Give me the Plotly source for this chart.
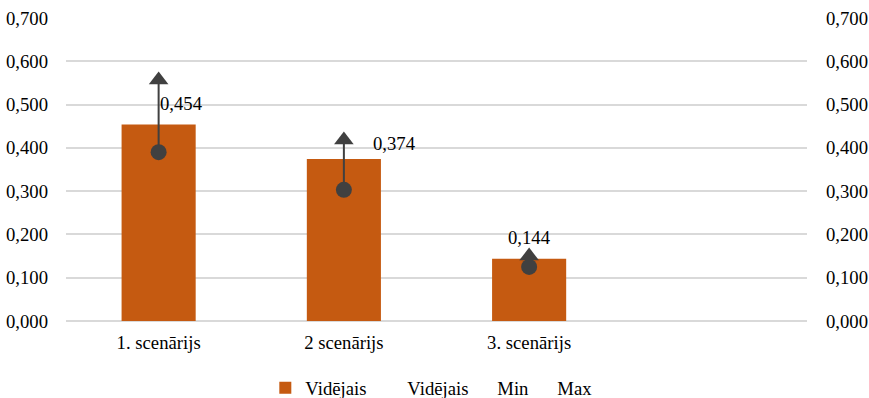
import plotly.graph_objects as go

# Scenario data
categories = ["1. scenārijs", "2 scenārijs", "3. scenārijs"]
n_slots = 4  # the category axis has one trailing empty slot
avg_values = [0.454, 0.374, 0.144]
min_values = [0.390, 0.303, 0.125]
max_values = [0.557, 0.418, 0.150]
y_ticks = [0.0, 0.1, 0.2, 0.3, 0.4, 0.5, 0.6, 0.7]

# Label offsets (px) for the average value labels
label_dx = [23, 51, 0]
label_dy = [21, 16, 21]

FONT = "Liberation Serif"
FS = 18.7
BAR_COLOR = "#C55A11"
MARK_COLOR = "#404040"
GRID = "#D9D9D9"

xs = list(range(len(categories)))

fig = go.Figure()

fig.add_trace(go.Bar(
    x=xs, y=avg_values, name="Vidējais", width=0.4,
    marker=dict(color=BAR_COLOR, line=dict(width=0)),
    showlegend=True, legendwidth=57,
))

# High-low connectors between min and max
hl_x, hl_y = [], []
for x, lo, hi in zip(xs, min_values, max_values):
    hl_x += [x, x, None]
    hl_y += [lo, hi, None]
fig.add_trace(go.Scatter(
    x=hl_x, y=hl_y, mode="lines", line=dict(color=MARK_COLOR, width=2),
    showlegend=False, hoverinfo="skip",
))

fig.add_trace(go.Scatter(
    x=xs, y=min_values, mode="markers", name="Min",
    marker=dict(symbol="circle", size=16, color=MARK_COLOR),
    showlegend=False,
))
fig.add_trace(go.Scatter(
    x=xs, y=max_values, mode="markers", name="Max",
    marker=dict(symbol="triangle-up", size=17, color=MARK_COLOR),
    showlegend=False,
))

# Legend entries drawn without symbols
for nm, lw in zip(["Vidējais", "Min", "Max"], [45, 15, None]):
    fig.add_trace(go.Scatter(
        x=[None], y=[None], mode="lines", name=nm,
        line=dict(width=0, color="rgba(0,0,0,0)"), showlegend=True,
        legendwidth=lw,
    ))

# Secondary axis carrier (no visible marks)
fig.add_trace(go.Scatter(
    x=[None], y=[None], yaxis="y2", mode="lines", showlegend=False,
    hoverinfo="skip",
))

for x, v, dx, dy in zip(xs, avg_values, label_dx, label_dy):
    fig.add_annotation(
        x=x, y=v, xref="x", yref="y", text=f"{v:.3f}".replace(".", ","),
        showarrow=False, xshift=dx, yshift=dy,
        font=dict(family=FONT, size=FS, color="#000000"),
    )

tick_text = [f"{t:.3f}".replace(".", ",") for t in y_ticks]

fig.update_layout(
    width=869, height=398,
    margin=dict(l=66, r=62, t=18, b=77),
    paper_bgcolor="white", plot_bgcolor="white",
    font=dict(family=FONT, size=FS, color="#000000"),
    bargap=0.6,
    xaxis=dict(
        range=[-0.5, n_slots - 0.5], tickmode="array",
        tickvals=xs, ticktext=categories,
        showgrid=False, zeroline=False, automargin=False,
        showline=False, ticks="", ticklabelstandoff=8,
        fixedrange=True,
    ),
    yaxis=dict(
        range=[0, 0.7], tickmode="array", tickvals=y_ticks, ticktext=tick_text,
        showgrid=True, gridcolor=GRID, gridwidth=1.5,
        zeroline=True, zerolinecolor=GRID, zerolinewidth=2,
        showline=False, ticks="", ticklabelstandoff=17, automargin=False,
    ),
    yaxis2=dict(
        range=[0, 0.7], tickmode="array", tickvals=y_ticks, ticktext=tick_text,
        overlaying="y", side="right", showgrid=False, zeroline=False,
        showline=False, ticks="", ticklabelstandoff=18, automargin=False,
    ),
    legend=dict(
        orientation="h", yref="container", y=0.025, yanchor="middle",
        x=0.493, xref="paper", xanchor="center",
        font=dict(family=FONT, size=FS, color="#000000"),
        itemwidth=30, traceorder="normal",
    ),
)

fig.write_html("out.html")
